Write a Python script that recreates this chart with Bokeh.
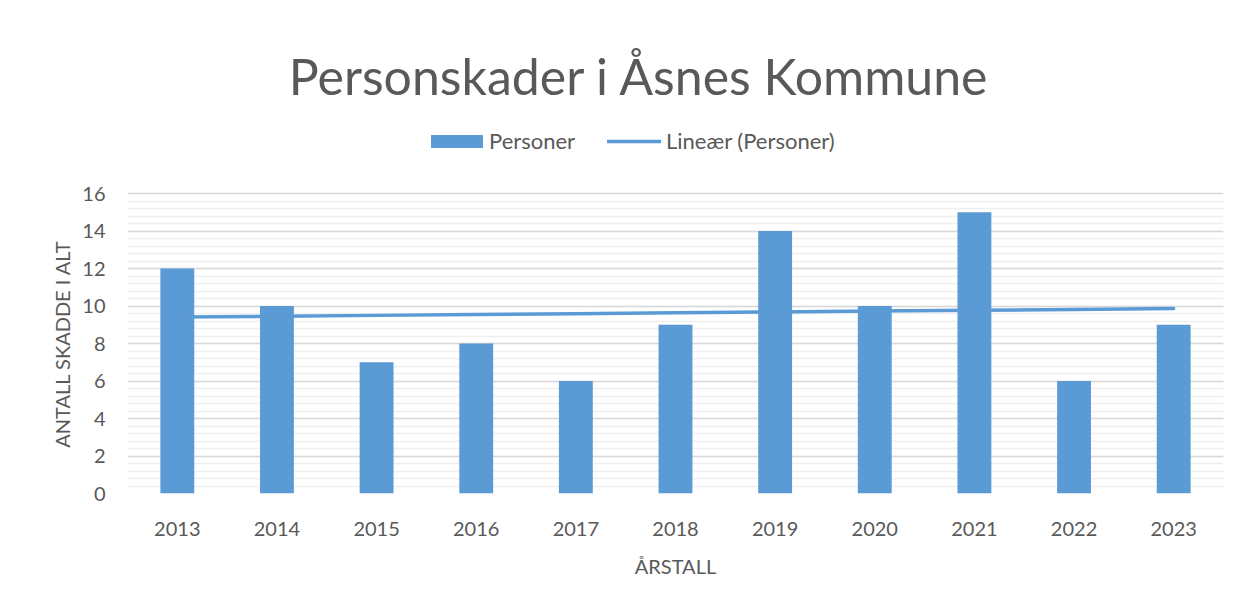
import numpy as np
from bokeh.plotting import figure
from bokeh.models import (Range1d, FixedTicker, Legend, LegendItem, Label,
                          ColumnDataSource)
from bokeh.embed import file_html
from bokeh.resources import INLINE

years = [2013, 2014, 2015, 2016, 2017, 2018, 2019, 2020, 2021, 2022, 2023]
personer = [12, 10, 7, 8, 6, 9, 14, 10, 15, 6, 9]
y_ticks = [0, 2, 4, 6, 8, 10, 12, 14, 16]

title_text = "Personskader i Åsnes Kommune"
x_label = "ÅRSTALL"
y_label = "ANTALL SKADDE I ALT"
bar_name = "Personer"
trend_name = "Lineær (Personer)"

FONT = "Lato"
TXT = "#595959"
BLUE = "#5B9BD5"

W, H = 1241, 600
FRAME_TOP_PX = 193      # pixel row of the top gridline (16)
FRAME_BOTTOM_PX = 493   # pixel row of the 0 gridline

# linear trend (least squares) from data
coef = np.polyfit(np.arange(len(years)), personer, 1)
trend = list(np.polyval(coef, np.arange(len(years))))

src = ColumnDataSource(dict(x=years, y=personer, t=trend))

# frame extends to the top of the canvas so title/legend can live inside it;
# gridlines only exist at the fixed ticks 0..16
y_top = y_ticks[-1] * FRAME_BOTTOM_PX / (FRAME_BOTTOM_PX - FRAME_TOP_PX)

p = figure(width=W, height=H, output_backend="svg",
           toolbar_location=None,
           x_range=Range1d(years[0] - 0.5, years[-1] + 0.5),
           y_range=Range1d(0, y_top),
           min_border_left=127, min_border_right=18,
           min_border_bottom=H - FRAME_BOTTOM_PX, min_border_top=0)
p.outline_line_color = None
p.background_fill_color = "white"
p.border_fill_color = "white"

bars = p.vbar(x="x", top="y", width=0.34, source=src, fill_color=BLUE,
              line_color=None)
line = p.line(x="x", y="t", source=src, line_color=BLUE, line_width=3.5,
              line_cap="round")

minor = [round(v * 0.4, 2) for v in range(0, 41)]
p.yaxis.ticker = FixedTicker(ticks=y_ticks, minor_ticks=minor)
p.xaxis.ticker = FixedTicker(ticks=years)
p.xgrid.grid_line_color = None
p.ygrid.grid_line_color = "#d9d9d9"
p.ygrid.grid_line_width = 1.5
p.ygrid.minor_grid_line_color = "#efefef"
p.ygrid.minor_grid_line_width = 1.5

for ax in (p.xaxis[0], p.yaxis[0]):
    ax.axis_line_color = None
    ax.major_tick_line_color = None
    ax.minor_tick_line_color = None
    ax.major_label_text_font = FONT
    ax.major_label_text_color = TXT
    ax.major_label_text_font_size = "20px"
    ax.axis_label_text_font = FONT
    ax.axis_label_text_color = TXT
    ax.axis_label_text_font_size = "20px"
    ax.axis_label_text_font_style = "normal"

p.xaxis.axis_label = x_label
# trailing no-break spaces shift the centred label down onto the 0..16 span
p.yaxis.axis_label = y_label + "\u00a0" * 38
p.xaxis.major_label_standoff = 22
p.xaxis.axis_label_standoff = 15
p.yaxis.major_label_standoff = 16
p.yaxis.axis_label_standoff = 5
p.yaxis.bounds = (y_ticks[0], y_ticks[-1])

fh = FRAME_BOTTOM_PX  # frame height in px

leg1 = Legend(items=[LegendItem(label=bar_name, renderers=[bars])],
              orientation="horizontal", location=(297, fh - 154),
              glyph_width=65, glyph_height=16, label_standoff=0,
              padding=0, margin=0, border_line_color=None,
              background_fill_alpha=0, label_text_font=FONT,
              label_text_color=TXT, label_text_font_size="22px")
leg2 = Legend(items=[LegendItem(label=trend_name, renderers=[line])],
              orientation="horizontal", location=(480, fh - 154),
              glyph_width=54, glyph_height=16, label_standoff=5,
              padding=0, margin=0, border_line_color=None,
              background_fill_alpha=0, label_text_font=FONT,
              label_text_color=TXT, label_text_font_size="22px")
p.add_layout(leg1, "center")
p.add_layout(leg2, "center")

p.add_layout(Label(x=512, y=fh - 75, x_units="screen", y_units="screen",
                   text=title_text, text_align="center",
                   text_baseline="alphabetic", text_font=FONT,
                   text_font_size="50px", text_color=TXT))

open("out.html", "w").write(file_html(p, INLINE))
